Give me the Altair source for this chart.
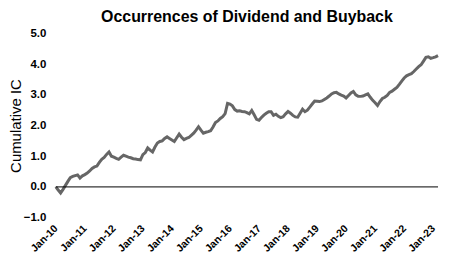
import altair as alt
import pandas as pd

title_text = "Occurrences of Dividend and Buyback"
y_title = "Cumulative IC"
start_year = 2010
tick_years = list(range(2010, 2024))

# Monthly cumulative IC, Jan-2010 .. Mar-2023
cum_ic = [
    0.00, -0.10, -0.20, -0.08, 0.05, 0.18, 0.30, 0.34, 0.37, 0.39, 0.29, 0.36,
    0.40, 0.45, 0.52, 0.60, 0.65, 0.68, 0.80, 0.90, 0.96, 1.06, 1.14, 1.00,
    0.97, 0.93, 0.90, 0.97, 1.03, 1.00, 0.97, 0.95, 0.92, 0.91, 0.89, 0.88,
    1.05, 1.12, 1.27, 1.20, 1.14, 1.30, 1.43, 1.48, 1.50, 1.58, 1.63, 1.58,
    1.53, 1.48, 1.60, 1.72, 1.62, 1.54, 1.58, 1.61, 1.68, 1.75, 1.85, 1.96,
    1.85, 1.75, 1.78, 1.80, 1.83, 1.95, 2.10, 2.15, 2.23, 2.29, 2.39, 2.72,
    2.70, 2.64, 2.52, 2.47, 2.48, 2.46, 2.45, 2.42, 2.38, 2.49, 2.35, 2.20,
    2.17, 2.26, 2.34, 2.40, 2.45, 2.45, 2.33, 2.37, 2.30, 2.26, 2.29, 2.38,
    2.46, 2.40, 2.33, 2.28, 2.27, 2.40, 2.53, 2.45, 2.50, 2.60, 2.70, 2.80,
    2.79, 2.78, 2.80, 2.85, 2.90, 2.96, 3.03, 3.07, 3.08, 3.03, 2.99, 2.96,
    2.90, 2.98, 3.06, 3.11, 3.00, 2.95, 2.95, 2.96, 3.00, 3.03, 2.92, 2.82,
    2.74, 2.65, 2.78, 2.88, 2.92, 2.98, 3.08, 3.12, 3.18, 3.24, 3.34, 3.45,
    3.55, 3.62, 3.66, 3.69, 3.76, 3.84, 3.92, 3.98, 4.10, 4.22, 4.24, 4.19,
    4.21, 4.24, 4.28,
]
y_ticks = [-1, 0, 1, 2, 3, 4, 5]
zero_level = [0]

df = pd.DataFrame({"m": list(range(len(cum_ic))), "ic": cum_ic})
zero_df = pd.DataFrame({"ic": zero_level})
tick_idx = [(y - start_year) * 12 for y in tick_years]

FONT = "Liberation Sans"
Y_DOMAIN = [-1, 5]

x_enc = alt.X(
    "m:Q",
    scale=alt.Scale(domain=[0, len(cum_ic) - 1], nice=False, zero=False),
    axis=alt.Axis(
        values=tick_idx,
        labelExpr="'Jan-' + format(10 + datum.value / 12, '02d')",
        labelAngle=-45,
        labelAlign="right",
        labelBaseline="middle",
        labelFontWeight="bold",
        labelFontSize=10.5,
        labelFont=FONT,
        labelColor="#000000",
        labelPadding=9,
        domain=False,
        ticks=False,
        grid=False,
        title=None,
        labelOverlap=False,
    ),
)
y_axis = alt.Axis(
    values=y_ticks,
    format=".1f",
    labelFontWeight="bold",
    labelFontSize=11.5,
    labelFont=FONT,
    labelColor="#000000",
    labelPadding=10,
    labelOverlap=False,
    domain=False,
    ticks=False,
    grid=False,
    title=y_title,
    titleFont=FONT,
    titleFontSize=15,
    titleFontWeight="normal",
    titleColor="#000000",
    titlePadding=0,
)
y_scale = alt.Scale(domain=Y_DOMAIN, nice=False)

line = alt.Chart(df).mark_line(color="#666666", strokeWidth=3).encode(
    x=x_enc, y=alt.Y("ic:Q", scale=y_scale, axis=y_axis)
)
zero = alt.Chart(zero_df).mark_rule(color="#000000", strokeWidth=1).encode(
    y=alt.Y("ic:Q", scale=y_scale, axis=y_axis)
)

chart = (
    alt.layer(line, zero)
    .properties(
        width=384,
        height=185,
        title=alt.TitleParams(
            title_text, font=FONT, fontSize=16, fontWeight="bold", color="#000000",
            anchor="middle", offset=3, frame="group",
        ),
        padding={"left": 0, "top": 0, "right": 0, "bottom": 0},
    )
    .configure_view(stroke=None)
)

chart.save("out.html", embed_options={"renderer": "svg", "actions": False})
